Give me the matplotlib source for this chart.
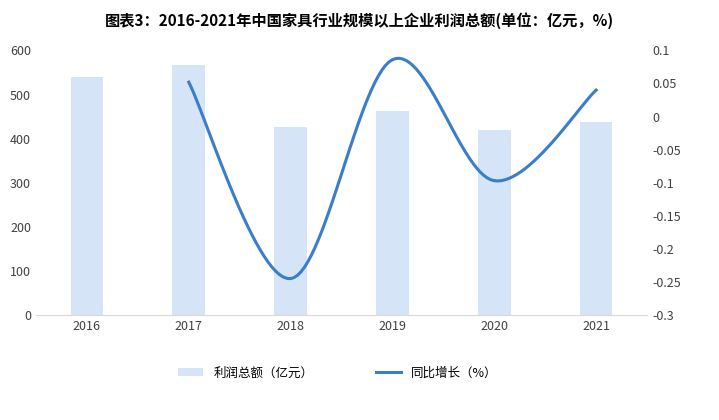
import matplotlib.pyplot as plt
import numpy as np

plt.rcParams['font.family'] = ['Noto Sans CJK SC', 'DejaVu Sans']

years = ['2016', '2017', '2018', '2019', '2020', '2021']
profit = [540, 567, 427, 463, 420, 437]
growth_years = [1, 2, 3, 4, 5]
growth = [0.052, -0.245, 0.086, -0.097, 0.04]


def smooth(xs, ys, n=30):
    # Catmull-Rom curve through the points, only for drawing
    p = [(xs[0], ys[0])] + list(zip(xs, ys)) + [(xs[-1], ys[-1])]
    ox, oy = [], []
    for i in range(1, len(p) - 2):
        p0, p1, p2, p3 = [np.array(q) for q in p[i - 1:i + 3]]
        for t in np.linspace(0, 1, n):
            pt = 0.5 * ((2 * p1) + (-p0 + p2) * t + (2 * p0 - 5 * p1 + 4 * p2 - p3) * t ** 2
                        + (-p0 + 3 * p1 - 3 * p2 + p3) * t ** 3)
            ox.append(pt[0])
            oy.append(pt[1])
    return ox, oy


fig, ax = plt.subplots(figsize=(7.19, 4.2), dpi=100)
fig.subplots_adjust(left=0.05, right=0.9, top=0.88, bottom=0.25)
x = np.arange(len(years))
ax.bar(x, profit, width=0.32, color='#d6e4f8', label='利润总额（亿元）')
ax.set_ylim(0, 600)
ax.set_yticks(range(0, 601, 100))
ax.set_xticks(x)
ax.set_xticklabels(years)
ax.set_xlim(-0.5, 5.5)
for s in ['top', 'right', 'left']:
    ax.spines[s].set_visible(False)
ax.spines['bottom'].set_color('#d9d9d9')
ax.tick_params(length=0, labelsize=9, colors='#404040')

ax2 = ax.twinx()
sx, sy = smooth(growth_years, growth)
ax2.plot(sx, sy, color='#3a7dc9', lw=2.2, label='同比增长（%）')
ax2.set_ylim(-0.3, 0.1)
ax2.set_yticks([-0.3, -0.25, -0.2, -0.15, -0.1, -0.05, 0, 0.05, 0.1])
ax2.set_yticklabels(['-0.3', '-0.25', '-0.2', '-0.15', '-0.1', '-0.05', '0', '0.05', '0.1'])
for s in ax2.spines.values():
    s.set_visible(False)
ax2.tick_params(length=0, labelsize=9, colors='#404040')

fig.suptitle('图表3：2016-2021年中国家具行业规模以上企业利润总额(单位：亿元，%)',
             fontsize=11, fontweight='bold', y=0.97)
h1, l1 = ax.get_legend_handles_labels()
h2, l2 = ax2.get_legend_handles_labels()
fig.legend(h1 + h2, l1 + l2, loc='lower center', bbox_to_anchor=(0.47, 0.07),
           ncol=2, frameon=False, fontsize=9, columnspacing=5)
fig.savefig('out.png')
